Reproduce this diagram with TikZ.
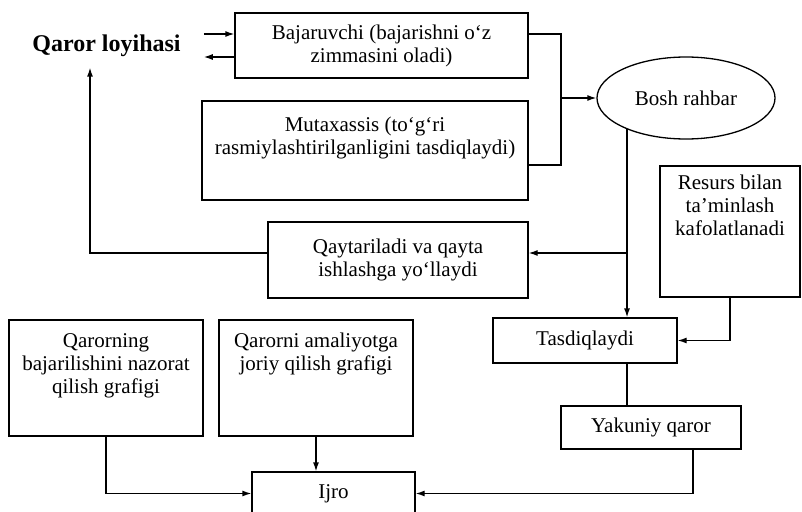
\documentclass[tikz,border=0pt]{standalone}
\usepackage{fontspec}
\setmainfont{Liberation Serif}
\usetikzlibrary{shapes.geometric, arrows.meta, positioning, calc}
\tikzset{
    box/.style={draw, rectangle, line width=1.3pt, inner sep=0pt, align=center, font=\fontsize{21}{23}\selectfont},
    bossbox/.style={draw, ellipse, line width=1.3pt, inner sep=0pt, font=\fontsize{21}{23}\selectfont},
    titletext/.style={inner xsep=23pt, inner ysep=11pt, font=\fontsize{24}{28}\selectfont\bfseries},
    link/.style={line width=1.3pt},
    arr/.style={link, -{Latex[length=9pt, width=6pt]}},
}

\begin{document}
\begin{tikzpicture}[x=1pt, y=-1pt]
    \useasboundingbox (0,0) rectangle (802,511);
    % top part
    \node[titletext] (qaror) at (106.5,45.5) {Qaror loyihasi};
    \node[box, minimum width=293pt, minimum height=65pt] (baj) at (381.5,45.5) {Bajaruvchi (bajarishni o‘z\\zimmasini oladi)};
    \node[box, minimum width=326pt, minimum height=99pt] (mut) at (365,150.5) {Mutaxassis (to‘g‘ri\\rasmiylashtirilganligini tasdiqlaydi)\\\strut};
    \node[bossbox, minimum width=178pt, minimum height=82pt] (bosh) at (686,98) {Bosh rahbar};
    \coordinate (join) at (561,98);
    % middle part
    \node[box, minimum width=260pt, minimum height=76pt] (qaytar) at (398,260) {Qaytariladi va qayta\\ishlashga yo‘llaydi};
    \node[box, minimum width=140pt, minimum height=131pt] (resurs) at (730,231.5) {Resurs bilan\\ta’minlash\\kafolatlanadi\\\strut\\\strut};
    \node[box, minimum width=184pt, minimum height=45pt] (tasd) at (585,340.5) {Tasdiqlaydi};
    \node[box, minimum width=180pt, minimum height=43pt] (yakun) at (651,427.5) {Yakuniy qaror};
    % bottom part
    \node[box, minimum width=194pt, minimum height=116pt] (nazorat) at (106,378) {Qarorning\\bajarilishini nazorat\\qilish grafigi\\\strut};
    \node[box, minimum width=194pt, minimum height=116pt] (joriy) at (316,378) {Qarorni amaliyotga\\joriy qilish grafigi\\\strut\\\strut};
    \node[box, minimum width=163pt, minimum height=43pt] (ijro) at (333.5,493.5) {Ijro};

    \draw[arr] ([yshift=11.5pt]qaror.east) -- ([yshift=11.5pt]baj.west);
    \draw[arr] ([yshift=-11.5pt]baj.west) -- ([yshift=-11.5pt]qaror.east);
    \draw[link] ([yshift=11.5pt]baj.east) -| (join) |- ([yshift=-14.5pt]mut.east);
    \draw[arr] (join) -- (bosh.west);
    \draw[arr] (bosh.208) -- (bosh.208 |- tasd.north);
    \draw[arr] ([yshift=7pt]qaytar.east -| bosh.208) -- ([yshift=7pt]qaytar.east);
    \draw[arr] ([yshift=7pt]qaytar.west) -| ([xshift=-16.5pt]qaror.south);
    \draw[arr] (resurs.south) |- (tasd.east);
    \draw[link] (bosh.208 |- tasd.south) -- (bosh.208 |- yakun.north);
    \draw[arr] ([xshift=42pt]yakun.south) |- (ijro.east);
    \draw[arr] (nazorat.south) |- (ijro.west);
    \draw[arr] (joriy.south) -- (joriy.south |- ijro.north);
\end{tikzpicture}
\end{document}
